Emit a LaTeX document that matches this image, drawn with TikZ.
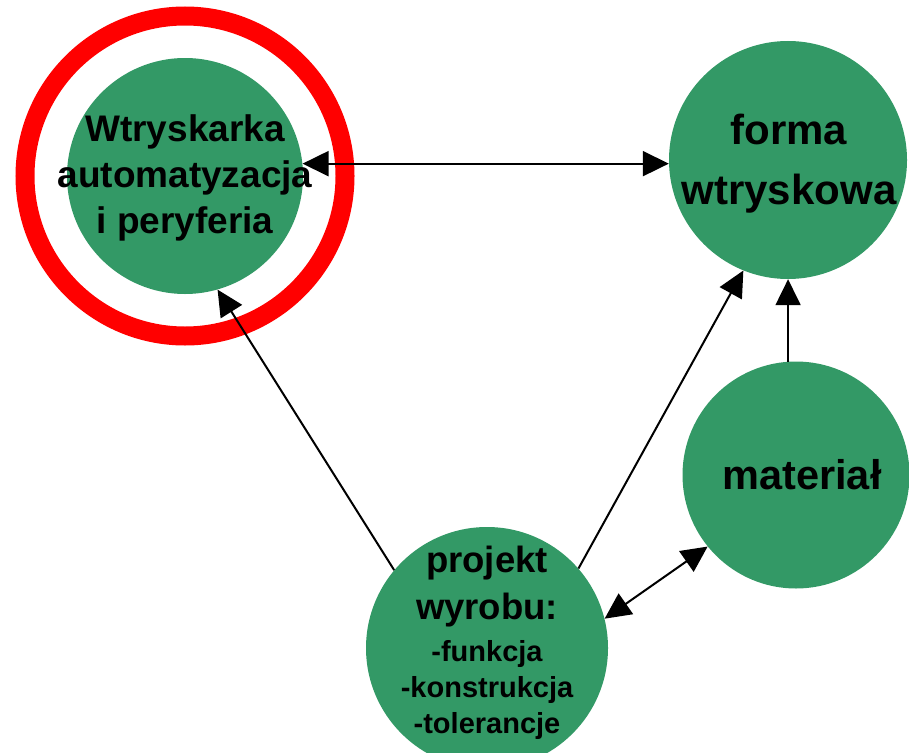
\documentclass[tikz,border=0pt]{standalone}
\usepackage{fontspec}
\setmainfont{Liberation Sans}
\usetikzlibrary{arrows.meta}
\definecolor{blobgreen}{HTML}{339966}
\tikzset{
  blob/.style={circle, fill=blobgreen, draw=none, inner sep=0pt},
  txt/.style={align=center, inner sep=0pt, text=black},
  conn/.style={line width=2pt, black, -{Triangle[length=26pt,width=25pt]}},
  dconn/.style={line width=2pt, black, {Triangle[length=26pt,width=25pt]}-{Triangle[length=26pt,width=25pt]}},
}
\begin{document}
\begin{tikzpicture}[x=1pt,y=-1pt]
\useasboundingbox (0,0) rectangle (909,752);
% circles
\node[blob, minimum size=236pt] (w) at (185,176) {};
\node[draw=red, line width=19pt, circle, minimum size=320pt, inner sep=0pt] (ring) at (185,176) {};
\node[blob, minimum size=238pt] (f) at (788,160) {};
\node[blob, minimum size=227pt] (m) at (796,475) {};
\node[blob, minimum size=242pt] (p) at (487,648) {};
% texts
\node[txt, font=\fontsize{37}{46}\selectfont\bfseries] (wt) at (185,178) {Wtryskarka\\automatyzacja\\i peryferia};
\node[txt, font=\fontsize{42}{60}\selectfont\bfseries] (ft) at (789,164) {forma\\wtryskowa};
\node[txt, font=\fontsize{41.5}{50}\selectfont\bfseries] (mt) at (802,475) {materiał};
\node[txt, font=\fontsize{29}{36}\selectfont\bfseries] (pt) at (487,643)
  {{\fontsize{36.5}{36}\selectfont projekt}\\[11pt]{\fontsize{36.5}{36}\selectfont wyrobu:}\\[6pt]-funkcja\\-konstrukcja\\-tolerancje};
% connectors
\draw[dconn] (w.6) -- (w.6 -| f.west);
\draw[conn] (p.140) -- (w.286);
\draw[conn] (p.41) -- (f.248);
\draw[conn] (m.94) -- (m.94 |- f.south);
\draw[dconn] (p.14) -- (m.219);
\end{tikzpicture}
\end{document}
